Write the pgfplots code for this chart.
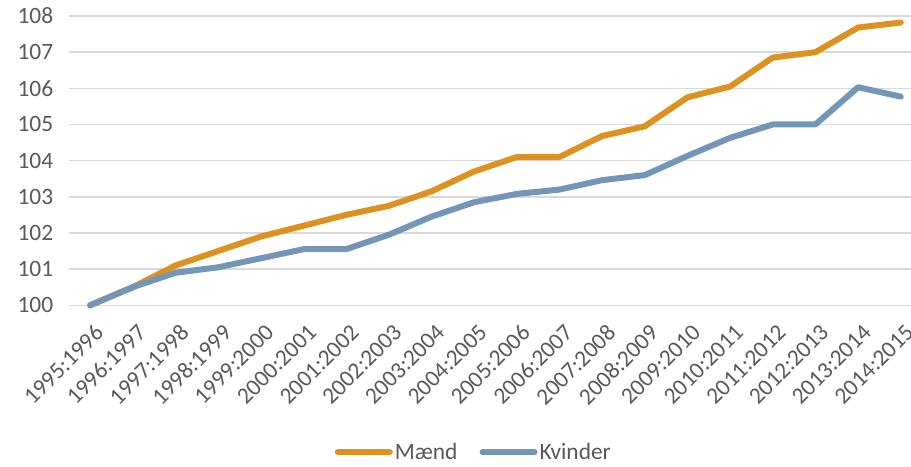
\documentclass[border=0pt]{standalone}
\usepackage{fontspec}
\setmainfont{Carlito}
\usepackage{pgfplots}
\pgfplotsset{compat=1.18}
\definecolor{maend}{RGB}{221,145,30}
\definecolor{kvind}{RGB}{115,150,183}
\definecolor{txt}{RGB}{89,89,89}
\definecolor{grd}{RGB}{217,217,217}
\begin{document}
\begin{tikzpicture}[x=1bp,y=1bp]
\useasboundingbox (0,0) rectangle (911,467);
\begin{axis}[
  at={(68.7bp,161.7bp)}, anchor=south west,
  scale only axis, width=842.3bp, height=289.3bp,
  xmin=-0.5, xmax=19.24, ymin=100, ymax=108,
  ytick={100,...,108},
  xtick={0,...,19},
  xticklabels={1995:1996,1996:1997,1997:1998,1998:1999,1999:2000,2000:2001,2001:2002,2002:2003,2003:2004,2004:2005,2005:2006,2006:2007,2007:2008,2008:2009,2009:2010,2010:2011,2011:2012,2012:2013,2013:2014,2014:2015},
  axis line style={draw=none},
  major tick length=0pt,
  ymajorgrids, grid style={grd, line width=1.5bp},
  clip=false,
  tick label style={font=\fontsize{23.5}{27}\selectfont, text=txt},
  /pgf/number format/assume math mode=true,
  yticklabel style={xshift=-12bp},
  xticklabel style={rotate=45, anchor=north east, inner sep=1bp, yshift=-14bp, xshift=-9bp},
  legend style={at={(axis description cs:0.481,-0.507)}, anchor=center, draw=none, fill=none,
     font=\fontsize{23.5}{27}\selectfont, text=txt, legend columns=2,
     /tikz/every even column/.append style={column sep=20bp}},
  legend image code/.code={\draw[#1, line width=6bp, line cap=round] (0bp,0bp) -- (52bp,0bp);},
]
\addplot[maend, line width=6bp, line cap=round, line join=round] coordinates {
(0,100) (1,100.5) (2,101.1) (3,101.5) (4,101.9) (5,102.2) (6,102.5) (7,102.75) (8,103.15) (9,103.7)
(10,104.1) (11,104.1) (12,104.68) (13,104.95) (14,105.75) (15,106.05) (16,106.85) (17,107.0) (18,107.68) (19,107.82)};
\addlegendentry{Mænd}
\addplot[kvind, line width=6bp, line cap=round, line join=round] coordinates {
(0,100) (1,100.5) (2,100.9) (3,101.05) (4,101.3) (5,101.55) (6,101.55) (7,101.95) (8,102.45) (9,102.85)
(10,103.08) (11,103.2) (12,103.46) (13,103.6) (14,104.13) (15,104.63) (16,105.0) (17,105.0) (18,106.03) (19,105.77)};
\addlegendentry{Kvinder}
\end{axis}
\end{tikzpicture}
\end{document}
